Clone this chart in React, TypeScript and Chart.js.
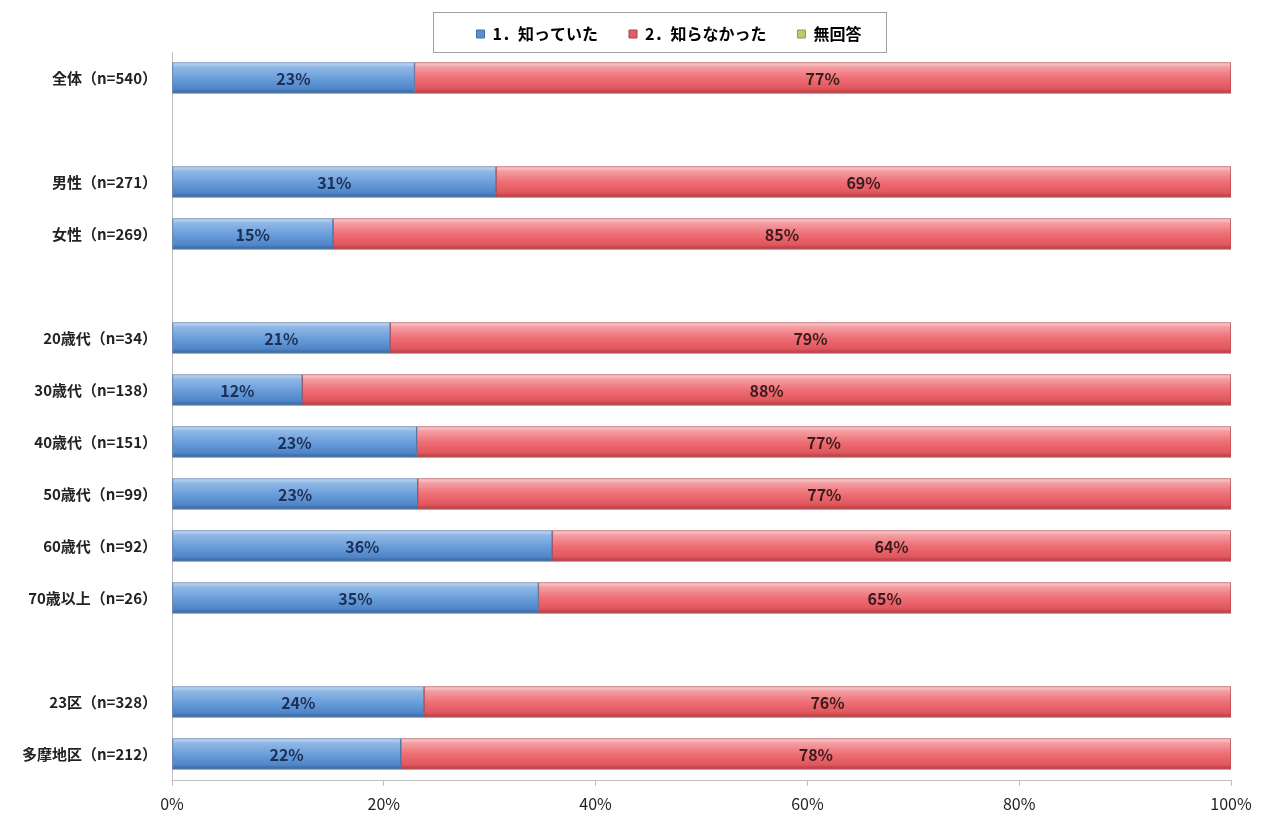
import React, { useEffect, useRef } from "react";
import { Chart, registerables } from "chart.js";

Chart.register(...registerables);

const categories = [
  "全体（n=540）",
  "",
  "男性（n=271）",
  "女性（n=269）",
  "",
  "20歳代（n=34）",
  "30歳代（n=138）",
  "40歳代（n=151）",
  "50歳代（n=99）",
  "60歳代（n=92）",
  "70歳以上（n=26）",
  "",
  "23区（n=328）",
  "多摩地区（n=212）",
];

const knew = [22.9, null, 30.6, 15.2, null, 20.6, 12.3, 23.1, 23.2, 35.9, 34.6, null, 23.8, 21.6];
const didNotKnow = [77.1, null, 69.4, 84.8, null, 79.4, 87.7, 76.9, 76.8, 64.1, 65.4, null, 76.2, 78.4];
const noAnswer = [null, null, null, null, null, null, null, null, null, null, null, null, null, null];

const seriesNames = ["1．知っていた", "2．知らなかった", "無回答"];
const xTicks = [0, 20, 40, 60, 80, 100];

const FONT = "'Noto Sans CJK JP', 'Noto Sans', sans-serif";
const BAR_H = 31;

function makeGradient(stops: [number, string][], flat: string) {
  return (ctx: any) => {
    const chart = ctx.chart;
    const y = chart.scales && chart.scales.y;
    if (!y || ctx.dataIndex == null) return flat;
    const yc = y.getPixelForValue(ctx.dataIndex);
    if (!isFinite(yc)) return flat;
    const g = chart.ctx.createLinearGradient(0, yc - BAR_H / 2, 0, yc + BAR_H / 2);
    stops.forEach(([o, c]) => g.addColorStop(o, c));
    return g;
  };
}

const valueLabels = {
  id: "valueLabels",
  afterDatasetsDraw(chart: any) {
    const c = chart.ctx;
    c.save();
    c.font = `bold 16px ${FONT}`;
    c.textAlign = "center";
    c.textBaseline = "middle";
    chart.data.datasets.forEach((ds: any, i: number) => {
      const meta = chart.getDatasetMeta(i);
      if (meta.hidden) return;
      meta.data.forEach((bar: any, j: number) => {
        const v = ds.data[j];
        if (v == null) return;
        const p = bar.getProps(["x", "y", "base"], true);
        c.fillStyle = i === 0 ? "#1c2f55" : "#3a1c1c";
        c.fillText(Math.round(v) + "%", (p.x + p.base) / 2, p.y + 1);
      });
    });
    c.restore();
  },
};

// shift the legend's centring box so the legend sits where it does in the original
const legendShift = {
  id: "legendShift",
  afterLayout(chart: any) {
    if (chart.legend) chart.legend.left = 107;
  },
};

const legendBox = {
  id: "legendBox",
  afterDraw(chart: any) {
    const lg = chart.legend;
    if (!lg || !lg.legendHitBoxes || !lg.legendHitBoxes.length) return;
    const boxes = lg.legendHitBoxes;
    const left = boxes[0].left - 44;
    const last = boxes[boxes.length - 1];
    const right = last.left + last.width + 24;
    const c = chart.ctx;
    c.save();
    c.strokeStyle = "#a0a0a0";
    c.lineWidth = 1;
    c.strokeRect(Math.round(left) + 0.5, 12.5, Math.round(right - left), 40);
    c.restore();
  },
};

export default function App() {
  const ref = useRef<HTMLCanvasElement>(null);
  useEffect(() => {
    if (!ref.current) return;
    const chart = new Chart(ref.current, {
      type: "bar",
      data: {
        labels: categories,
        datasets: [
          {
            label: seriesNames[0],
            data: knew,
            backgroundColor: makeGradient(
              [
                [0, "#c9def4"],
                [0.15, "#8fb8e6"],
                [0.5, "#6b9fdb"],
                [0.85, "#4f86c9"],
                [1, "#365f95"],
              ],
              "#6b9fdb"
            ),
            borderColor: "#4a74a8",
            borderWidth: 1,
            borderSkipped: false,
            barThickness: BAR_H,
          } as any,
          {
            label: seriesNames[1],
            data: didNotKnow,
            backgroundColor: makeGradient(
              [
                [0, "#fbd3d4"],
                [0.15, "#f39ea2"],
                [0.5, "#ee6f75"],
                [0.85, "#e0565c"],
                [1, "#a9393e"],
              ],
              "#ee6f75"
            ),
            borderColor: "#b94a4e",
            borderWidth: 1,
            borderSkipped: false,
            barThickness: BAR_H,
          } as any,
          {
            label: seriesNames[2],
            data: noAnswer,
            backgroundColor: "#a8c464",
            barThickness: BAR_H,
          } as any,
        ],
      },
      options: {
        indexAxis: "y",
        animation: false,
        responsive: false,
        maintainAspectRatio: false,
        layout: { padding: { top: -5, right: 40, bottom: 4, left: 0 } },
        plugins: {
          tooltip: { enabled: false },
          legend: {
            display: true,
            position: "top",
            align: "center",
            onClick: () => {},
            labels: {
              font: { family: FONT, size: 16, weight: "bold" },
              color: "#222",
              boxWidth: 8,
              boxHeight: 8,
              padding: 31,
              generateLabels: () => [
                { text: seriesNames[0], fillStyle: "#5b8fd0", strokeStyle: "#3f6fa8", lineWidth: 1, datasetIndex: 0 },
                { text: seriesNames[1], fillStyle: "#e0606a", strokeStyle: "#b04048", lineWidth: 1, datasetIndex: 1 },
                { text: seriesNames[2], fillStyle: "#b5cc6a", strokeStyle: "#8aa040", lineWidth: 1, datasetIndex: 2 },
              ] as any,
            },
          },
        },
        scales: {
          x: {
            stacked: true,
            min: 0,
            max: 100,
            afterBuildTicks: (scale: any) => {
              scale.ticks = xTicks.map((v) => ({ value: v }));
            },
            ticks: {
              callback: (v: any) => v + "%",
              font: { family: FONT, size: 16 },
              color: "#222",
              padding: 8,
            },
            grid: { drawOnChartArea: false, tickLength: 6, color: "#c0c0c0" },
            border: { display: true, color: "#c0c0c0" },
            afterFit: (scale: any) => {
              scale.height = 33;
            },
          },
          y: {
            stacked: true,
            ticks: {
              font: { family: FONT, size: 15, weight: "bold" },
              color: "#222",
              padding: 7,
              autoSkip: false,
            },
            grid: { display: false },
            border: { display: true, color: "#c0c0c0" },
            afterFit: (scale: any) => {
              scale.width = 172;
            },
          },
        },
      } as any,
      plugins: [legendShift, valueLabels, legendBox],
    });
    return () => chart.destroy();
  }, []);
  return (
    <div style={{ position: "fixed", left: 0, top: 0, width: 1271, height: 817, background: "#fff" }}>
      <canvas ref={ref} width={1271} height={817} style={{ width: 1271, height: 817 }} />
    </div>
  );
}
